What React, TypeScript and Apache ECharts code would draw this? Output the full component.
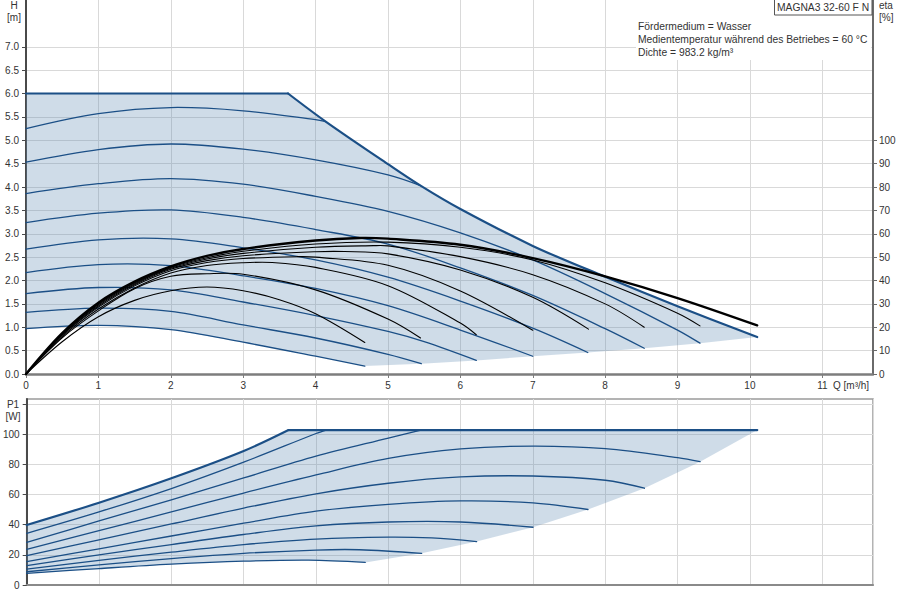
import React, { useEffect, useRef } from "react";
import * as echarts from "echarts";

// ---------- axis ticks / labels ----------
const qTicks = [0, 1, 2, 3, 4, 5, 6, 7, 8, 9, 10, 11];
const hTicks = [0, 0.5, 1, 1.5, 2, 2.5, 3, 3.5, 4, 4.5, 5, 5.5, 6, 6.5, 7];
const etaTicks = [0, 10, 20, 30, 40, 50, 60, 70, 80, 90, 100];
const pTicks = [0, 20, 40, 60, 80, 100, 120];
const pLabels = [0, 20, 40, 60, 80, 100];

// ---------- QH curves [Q m³/h, H m] ----------
const hMaxFlat = [[0, 6.0], [3.62, 6.0]];
const hMaxFall = [[3.62, 6.0], [4.14, 5.4], [5, 4.49], [5.45, 4.03], [6, 3.53], [7, 2.74], [8, 2.08], [9, 1.45], [10.1, 0.79]];
const h1 = [[0, 5.25], [1, 5.57], [2, 5.7], [3, 5.63], [4, 5.44], [4.14, 5.4]];
const h2 = [[0, 4.53], [1, 4.8], [2, 4.92], [3, 4.81], [4, 4.58], [5, 4.26], [5.45, 4.03]];
const h3 = [[0, 3.86], [1, 4.07], [2, 4.18], [3, 4.06], [4, 3.8], [5, 3.48], [6, 3.02], [7, 2.44], [8, 1.72], [9, 0.94], [9.31, 0.66]];
const h4 = [[0, 3.24], [1, 3.44], [2, 3.51], [3, 3.35], [4, 3.09], [5, 2.78], [6, 2.27], [7, 1.68], [8, 0.97], [8.54, 0.55]];
const h5 = [[0, 2.67], [1, 2.87], [2, 2.89], [3, 2.7], [4, 2.44], [5, 2.07], [6, 1.56], [7, 0.98], [7.76, 0.46]];
const h6 = [[0, 2.17], [1, 2.34], [2, 2.32], [3, 2.1], [4, 1.83], [5, 1.46], [6, 0.94], [7, 0.38]];
const h7 = [[0, 1.72], [1, 1.85], [2, 1.8], [3, 1.54], [4, 1.25], [5, 0.91], [5.5, 0.69], [6.22, 0.29]];
const h8 = [[0, 1.32], [1, 1.41], [2, 1.34], [3, 1.05], [4, 0.77], [5, 0.42], [5.46, 0.22]];
const h9 = [[0, 0.97], [1, 1.04], [2, 0.95], [3, 0.68], [4, 0.38], [4.68, 0.17]];
const hLowerEdge = [[4.68, 0.17], [5.46, 0.22], [6.22, 0.29], [7.0, 0.38], [7.76, 0.46], [8.54, 0.55], [9.31, 0.66], [10.1, 0.79]];

// ---------- efficiency curves [Q, eta %] ----------
const e0 = [[0, 0], [0.5, 17.5], [1, 30.5], [1.5, 39.5], [2, 46], [2.5, 50.5], [3, 53.5], [4, 57.1], [4.6, 58.2], [5, 57.9], [6, 55.3], [7, 49.6], [8, 41.8], [9, 32.5], [10.1, 20.8]];
const e3 = [[0, 0], [0.5, 17.3], [1, 30], [1.5, 39], [2, 45.6], [2.5, 49.7], [3, 52.5], [4, 55.6], [5, 56.4], [6, 54.2], [7, 48.8], [8, 39], [9, 26], [9.31, 20.6]];
const e4 = [[0, 0], [0.5, 17.1], [1, 29.6], [1.5, 38.6], [2, 45.2], [2.5, 49.2], [3, 51.6], [4, 54.2], [4.8, 54.9], [5, 54.8], [6, 50.2], [7, 42.5], [8, 30], [8.54, 20]];
const e5 = [[0, 0], [0.5, 16.8], [1, 29.1], [1.5, 38.2], [2, 44.8], [2.5, 48.5], [3, 50.6], [4, 52.3], [4.4, 52.4], [5, 51.4], [6, 44.5], [7, 32.8], [7.77, 19.2]];
const e6 = [[0, 0], [0.5, 16.5], [1, 28.6], [1.5, 37.7], [2, 44.2], [2.5, 47.7], [3, 49.4], [3.75, 50.2], [4, 50], [5, 46.5], [6, 35.5], [7, 18.7]];
const e7 = [[0, 0], [0.5, 16], [1, 27.8], [1.5, 36.8], [2, 43.2], [2.5, 46.4], [3, 47.6], [3.4, 47.7], [4, 45.6], [5, 37.8], [6, 21.8], [6.22, 16.8]];
const e8 = [[0, 0], [0.5, 15.5], [1, 27], [1.5, 36.5], [2, 41.8], [2.5, 42.9], [3, 42.7], [4, 36], [5, 23.5], [5.45, 15.4]];
const e9 = [[0, 0], [0.5, 13.8], [1, 24.5], [1.5, 31.5], [2, 35.6], [2.5, 37.2], [3, 35.6], [3.5, 31.8], [4, 25.8], [4.68, 13.5]];

// ---------- power curves [Q, P1 W] ----------
const pMaxRise = [[0, 39.8], [1, 54.6], [2, 70.8], [3, 88.9], [3.62, 102.8]];
const pMaxFlat = [[3.62, 102.8], [10.1, 102.8]];
const p1 = [[0, 34.3], [1, 48.5], [2, 64], [3, 81.5], [4, 100.5], [4.14, 102.8]];
const p2 = [[0, 28.3], [1, 42.5], [2, 56.5], [3, 71], [4, 85.5], [5, 97.5], [5.45, 102.8]];
const p3 = [[0, 23.7], [1, 36], [2, 48.5], [3, 61], [4, 73], [5, 84], [6, 90.3], [7, 92.2], [8, 90.5], [9, 84.5], [9.31, 81.8]];
const p4 = [[0, 19.5], [1, 30], [2, 40.5], [3, 51], [4, 60.5], [5, 67.5], [6, 71.7], [7, 72.3], [8, 69.5], [8.54, 64.2]];
const p5 = [[0, 15.5], [1, 24], [2, 32.5], [3, 41], [4, 49], [5, 53.5], [6, 55.8], [7, 54.5], [7.76, 50.1]];
const p6 = [[0, 12.8], [1, 20], [2, 26.8], [3, 33.5], [4, 39.2], [5, 41.8], [6, 41.8], [7, 38.3]];
const p7 = [[0, 10.6], [1, 16.3], [2, 21.8], [3, 26.8], [4, 30.5], [5, 31.8], [5.6, 31.2], [6.22, 28.8]];
const p8 = [[0, 8.8], [1, 13.3], [2, 17.5], [3, 21], [4, 23.2], [4.6, 23.4], [5.46, 21.0]];
const p9 = [[0, 7.7], [1, 10.9], [2, 13.8], [3, 15.8], [3.9, 16.5], [4.68, 15.0]];
const pLowerEdge = [[4.68, 15.0], [5.46, 21.0], [6.22, 28.8], [7.0, 38.3], [7.76, 50.1], [8.54, 64.2], [9.31, 81.8], [10.1, 102.8]];

// ---------- texts ----------
const titleText = "MAGNA3 32-60 F N";
const infoLines = ["Fördermedium = Wasser", "Medientemperatur während des Betriebes = 60 °C", "Dichte = 983.2 kg/m³"];

const FONT = "'Liberation Sans', Arial, sans-serif";
const BLUE = "#1b4f86";
const FILL = "rgba(95,140,180,0.30)";
const GRIDC = "#d9d9d9";
const TXT = "#333";
const SMOOTH = 0.34;

const rev = (a: number[][]) => a.slice().reverse();
const hPoly = [...hMaxFlat, ...hMaxFall.slice(1), ...rev(hLowerEdge).slice(1), ...rev(h9).slice(1)];
const pPoly = [...pMaxRise, ...pMaxFlat.slice(1), ...rev(pLowerEdge).slice(1), ...rev(p9).slice(1)];

function polySeries(points: number[][], xi: number, yi: number) {
  return {
    type: "custom",
    xAxisIndex: xi,
    yAxisIndex: yi,
    silent: true,
    z: 1,
    data: [[0, 0]],
    renderItem: (_p: any, api: any) => ({
      type: "polygon",
      shape: { points: points.map((pt) => api.coord(pt)) },
      style: { fill: FILL, stroke: "none" },
    }),
  };
}

// curves drawn as smoothed polylines through the data points, positioned via the axes
function curveSeries(name: string, curves: number[][][], xi: number, yi: number, color: string, width: number, smooth = SMOOTH, z = 3) {
  return {
    name,
    type: "custom",
    xAxisIndex: xi,
    yAxisIndex: yi,
    silent: true,
    z,
    data: curves.map((c, i) => [c[0][0], c[0][1], i]),
    renderItem: (params: any, api: any) => {
      const c = curves[params.dataIndex];
      return {
        type: "polyline",
        shape: { points: c.map((pt) => api.coord(pt)), smooth },
        style: { stroke: color, lineWidth: width, fill: null, lineJoin: "round", lineCap: "round" },
      };
    },
  };
}

function buildOption() {
  const label = { fontFamily: FONT, fontSize: 10, color: TXT };
  const txt = (text: string, x: number, y: number, align: string, size = 10) => ({
    type: "text", x, y, z: 52,
    style: { text, fontFamily: FONT, fontSize: size, fill: TXT, align, verticalAlign: "middle" },
  });
  return {
    animation: false,
    backgroundColor: "#fff",
    grid: [
      { left: 26, right: 27, top: 0, height: 374 },
      { left: 26, right: 27, top: 399, height: 186, show: true, borderColor: "#9a9a9a", borderWidth: 1.5, backgroundColor: "transparent" },
    ],
    xAxis: [
      {
        type: "value", gridIndex: 0, min: 0, max: 11.7, interval: 1,
        axisLine: { show: true, onZero: false, lineStyle: { color: "#7d7d7d", width: 2.5 } },
        axisTick: { show: true, length: 4, customValues: qTicks, lineStyle: { color: "#7d7d7d" } },
        axisLabel: { ...label, margin: 6, customValues: qTicks },
        splitLine: { show: true, lineStyle: { color: GRIDC, width: 1 } },
      },
      {
        type: "value", gridIndex: 1, min: 0, max: 11.7, interval: 1,
        axisLine: { show: true, onZero: false, lineStyle: { color: "#8a8a8a", width: 2 } },
        axisTick: { show: false },
        axisLabel: { show: false },
        splitLine: { show: true, lineStyle: { color: GRIDC, width: 1 } },
      },
    ],
    yAxis: [
      {
        type: "value", gridIndex: 0, position: "left", min: 0, max: 8, interval: 0.5,
        axisLine: { show: true, onZero: false, lineStyle: { color: "#4a4a4a", width: 2 } },
        axisTick: { show: true, length: 4, customValues: hTicks, lineStyle: { color: "#4a4a4a" } },
        axisLabel: { ...label, margin: 7, customValues: hTicks, formatter: (v: number) => v.toFixed(1) },
        splitLine: { show: true, lineStyle: { color: GRIDC, width: 1 } },
      },
      {
        type: "value", gridIndex: 0, position: "right", min: 0, max: 160, interval: 10,
        axisLine: { show: true, onZero: false, lineStyle: { color: "#6a6a6a", width: 2 } },
        axisTick: { show: true, length: 4, customValues: etaTicks, lineStyle: { color: "#6a6a6a" } },
        axisLabel: { ...label, margin: 6, customValues: etaTicks },
        splitLine: { show: false },
      },
      {
        type: "value", gridIndex: 1, position: "left", min: 0, max: 123.4, interval: 20,
        axisLine: { show: true, onZero: false, lineStyle: { color: "#4a4a4a", width: 2 } },
        axisTick: { show: true, length: 4, customValues: pTicks, lineStyle: { color: "#4a4a4a" } },
        axisLabel: { ...label, margin: 7, customValues: pLabels },
        splitLine: { show: true, lineStyle: { color: GRIDC, width: 1 } },
      },
    ],
    graphic: [
      { type: "rect", shape: { x: 636, y: 0, width: 235, height: 60 }, style: { fill: "#fff" }, z: 50 },
      { type: "rect", shape: { x: 774.5, y: -1, width: 97.5, height: 16 }, style: { fill: "#fff", stroke: "#555", lineWidth: 1 }, z: 51 },
      txt(titleText, 823, 7.5, "center", 10.3),
      ...infoLines.map((t, i) => txt(t, 638, 26 + i * 13.3, "left", 10.3)),
      txt("H", 14, 5, "center"),
      txt("[m]", 14, 17, "center"),
      txt("eta", 879, 5, "left"),
      txt("[%]", 879, 17, "left"),
      txt("P1", 13, 404, "center"),
      txt("[W]", 13, 416, "center"),
      txt("Q [m³/h]", 833, 385, "left"),
    ],
    series: [
      polySeries(hPoly, 0, 0),
      curveSeries("QH", [h1, h2, h3, h4, h5, h6, h7, h8, h9], 0, 0, BLUE, 1.3),
      curveSeries("QH max", [hMaxFall], 0, 0, BLUE, 2.2, SMOOTH, 4),
      curveSeries("QH max flat", [hMaxFlat], 0, 0, BLUE, 2.2, 0, 4),
      curveSeries("eta", [e9, e8, e7, e6, e5, e4, e3], 0, 1, "#000", 1.1, SMOOTH, 5),
      curveSeries("eta max", [e0], 0, 1, "#000", 2.4, SMOOTH, 6),
      polySeries(pPoly, 1, 2),
      curveSeries("P1", [p1, p2, p3, p4, p5, p6, p7, p8, p9], 1, 2, BLUE, 1.3),
      curveSeries("P1 max", [pMaxRise], 1, 2, BLUE, 2.2, SMOOTH, 4),
      curveSeries("P1 max flat", [pMaxFlat], 1, 2, BLUE, 2.2, 0, 4),
    ],
  };
}

export default function App() {
  const ref = useRef<HTMLDivElement>(null);
  useEffect(() => {
    if (!ref.current) return;
    const chart = echarts.init(ref.current, null, { renderer: "svg" });
    chart.setOption(buildOption() as any);
    return () => chart.dispose();
  }, []);
  return (
    <div
      ref={ref}
      style={{ position: "fixed", left: 0, top: 0, width: 900, height: 600, background: "#fff" }}
    />
  );
}
